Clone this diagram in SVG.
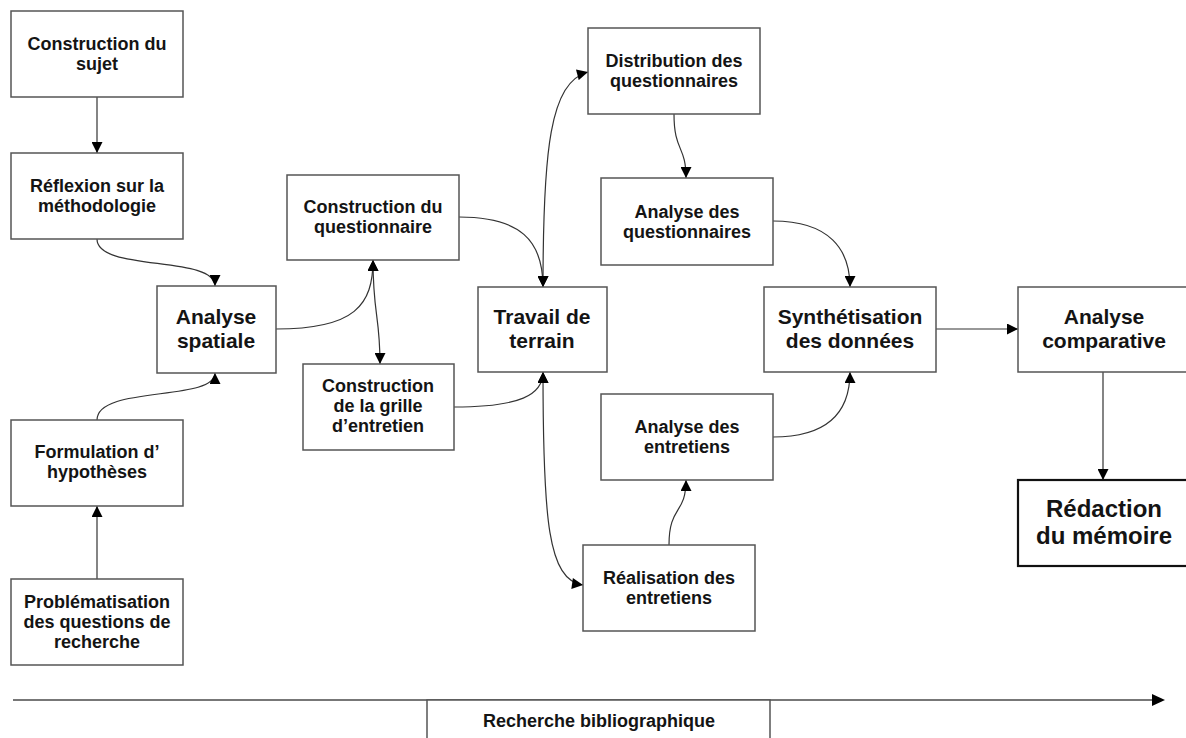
<svg xmlns="http://www.w3.org/2000/svg" width="1186" height="738" viewBox="0 0 1186 738">
<style>
.box{fill:#fff;stroke:#555;stroke-width:1.5}
.strong{fill:#fff;stroke:#111;stroke-width:2.2}
.t{font-family:"Liberation Sans",Arial,sans-serif;font-weight:bold;font-size:18px;fill:#141414;text-anchor:middle}
.big{font-size:21px}
.huge{font-size:24px}
.c{fill:none;stroke:#333;stroke-width:1.2}
.tl{fill:none;stroke:#777;stroke-width:2}
</style>
<defs>
<marker id="ah" viewBox="0 0 10 10" refX="10" refY="5" markerWidth="12" markerHeight="11" markerUnits="userSpaceOnUse" orient="auto-start-reverse">
<path d="M0,0 L10,5 L0,10 z" fill="#000"/>
</marker>
</defs>
<rect width="1186" height="738" fill="#fff"/>
<g id="connectors">
<path class="c" d="M97,97 L97,153" marker-end="url(#ah)"/>
<path class="c" d="M97,579 L97,506" marker-end="url(#ah)"/>
<path class="c" d="M97,239 C97,272 215,255 215,286" marker-end="url(#ah)"/>
<path class="c" d="M97,420 C97,385 215,402 215,373" marker-end="url(#ah)"/>
<path class="c" d="M276,329 C355,329 373,305 373,260" marker-end="url(#ah)"/>
<path class="c" d="M373,260 C373,315 380,315 380,364" marker-start="url(#ah)" marker-end="url(#ah)"/>
<path class="c" d="M459,217 C520,217 543,240 543,287" marker-end="url(#ah)"/>
<path class="c" d="M454,407 C520,407 543,395 543,372" marker-end="url(#ah)"/>
<path class="c" d="M543,287 C543,150 550,82 588,72" marker-start="url(#ah)" marker-end="url(#ah)"/>
<path class="c" d="M543,372 C543,520 548,580 583,585" marker-start="url(#ah)" marker-end="url(#ah)"/>
<path class="c" d="M674,114 C674,152 686,145 686,178" marker-end="url(#ah)"/>
<path class="c" d="M669,545 C669,505 686,515 686,480" marker-end="url(#ah)"/>
<path class="c" d="M773,221 C830,221 850,250 850,287" marker-end="url(#ah)"/>
<path class="c" d="M773,437 C830,437 850,410 850,372" marker-end="url(#ah)"/>
<path class="c" d="M936,329 L1018,329" marker-end="url(#ah)"/>
<path class="c" d="M1103,372 L1103,480" marker-end="url(#ah)"/>
<path class="tl" d="M13,700 L1163,700"/>
<path d="M1152,694 L1165,700 L1152,706 z" fill="#000"/>
</g>
<g id="n1"><rect class="box" x="11" y="11" width="172" height="86"/><text class="t" x="97" y="50">Construction du</text><text class="t" x="97" y="70">sujet</text></g>
<g id="n2"><rect class="box" x="11" y="153" width="172" height="86"/><text class="t" x="97" y="192">Réflexion sur la</text><text class="t" x="97" y="212">méthodologie</text></g>
<g id="n3"><rect class="box" x="157" y="286" width="119" height="87"/><text class="t big" x="216" y="324">Analyse</text><text class="t big" x="216" y="348">spatiale</text></g>
<g id="n4"><rect class="box" x="11" y="420" width="172" height="86"/><text class="t" x="97" y="458">Formulation d’</text><text class="t" x="97" y="478">hypothèses</text></g>
<g id="n5"><rect class="box" x="11" y="579" width="172" height="86"/><text class="t" x="97" y="608">Problématisation</text><text class="t" x="97" y="628">des questions de</text><text class="t" x="97" y="648">recherche</text></g>
<g id="n6"><rect class="box" x="287" y="175" width="172" height="85"/><text class="t" x="373" y="213">Construction du</text><text class="t" x="373" y="233">questionnaire</text></g>
<g id="n7"><rect class="box" x="303" y="364" width="151" height="86"/><text class="t" x="378" y="392">Construction</text><text class="t" x="378" y="412">de la grille</text><text class="t" x="378" y="432">d’entretien</text></g>
<g id="n8"><rect class="box" x="478" y="287" width="129" height="85"/><text class="t big" x="542" y="324">Travail de</text><text class="t big" x="542" y="348">terrain</text></g>
<g id="n9"><rect class="box" x="588" y="28" width="172" height="86"/><text class="t" x="674" y="67">Distribution des</text><text class="t" x="674" y="87">questionnaires</text></g>
<g id="n10"><rect class="box" x="601" y="178" width="172" height="87"/><text class="t" x="687" y="218">Analyse des</text><text class="t" x="687" y="238">questionnaires</text></g>
<g id="n11"><rect class="box" x="764" y="287" width="172" height="85"/><text class="t big" x="850" y="324">Synthétisation</text><text class="t big" x="850" y="348">des données</text></g>
<g id="n12"><rect class="box" x="601" y="394" width="172" height="86"/><text class="t" x="687" y="433">Analyse des</text><text class="t" x="687" y="453">entretiens</text></g>
<g id="n13"><rect class="box" x="583" y="545" width="172" height="86"/><text class="t" x="669" y="584">Réalisation des</text><text class="t" x="669" y="604">entretiens</text></g>
<g id="n14"><rect class="box" x="1018" y="287" width="172" height="85"/><text class="t big" x="1104" y="324">Analyse</text><text class="t big" x="1104" y="348">comparative</text></g>
<g id="n15"><rect class="strong" x="1018" y="480" width="172" height="86"/><text class="t huge" x="1104" y="517">Rédaction</text><text class="t huge" x="1104" y="544">du mémoire</text></g>
<g id="n16"><rect class="box" x="427" y="700" width="343" height="50"/><text class="t" x="599" y="727">Recherche bibliographique</text></g>
</svg>
